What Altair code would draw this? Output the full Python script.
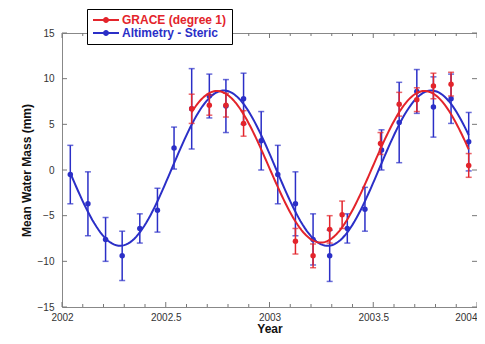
import altair as alt
import pandas as pd
import numpy as np

RED = "#e3242b"
BLUE = "#2b2fc7"
S_RED = "GRACE (degree 1)"
S_BLUE = "Altimetry - Steric"

# Altimetry - Steric (monthly)
blue_t = [2002.04, 2002.125, 2002.21, 2002.29, 2002.375, 2002.46, 2002.54, 2002.625,
          2002.71, 2002.79, 2002.875, 2002.96, 2003.04, 2003.125, 2003.21, 2003.29,
          2003.375, 2003.46, 2003.54, 2003.625, 2003.71, 2003.79, 2003.875, 2003.96]
blue_y = [-0.5, -3.7, -7.6, -9.4, -6.4, -4.4, 2.4, 6.7, 8.1, 7.0, 7.8, 3.2,
          -0.5, -3.7, -7.6, -9.4, -6.4, -4.3, 2.2, 5.2, 8.6, 6.9, 7.8, 3.1]
blue_e = [3.2, 3.5, 2.4, 2.7, 1.6, 2.4, 2.3, 4.4, 2.4, 2.9, 2.8, 3.2,
          3.2, 3.5, 2.8, 2.8, 1.6, 2.4, 2.2, 4.4, 2.4, 3.3, 2.7, 3.2]

# GRACE (degree 1)
red_t = [2002.625, 2002.71, 2002.79, 2002.875, 2003.125, 2003.21, 2003.29, 2003.35,
         2003.535, 2003.625, 2003.71, 2003.79, 2003.875, 2003.96]
red_y = [6.7, 7.1, 7.1, 5.1, -7.8, -9.4, -6.5, -4.9, 2.9, 7.2, 7.7, 9.2, 9.4, 0.5]
red_e = [1.6, 1.1, 1.3, 1.4, 1.4, 1.3, 1.5, 1.5, 1.2, 1.3, 1.3, 1.4, 1.3, 1.3]

# annual sinusoid fits: offset, amplitude, time of maximum
blue_fit = (0.2, 8.5, 2002.78)
red_fit = (0.35, 8.3, 2002.747)

x_labels = [2002, 2002.5, 2003, 2003.5, 2004]
x_minor = [2002.1, 2002.2, 2002.3, 2002.4, 2002.6, 2002.7, 2002.8, 2002.9,
           2003.1, 2003.2, 2003.3, 2003.4, 2003.6, 2003.7, 2003.8, 2003.9]
y_labels = [-15, -10, -5, 0, 5, 10, 15]

W, H = 415, 274


def points_df(t, y, e, name):
    return pd.DataFrame({
        "t": t, "y": y,
        "lo": [a - b for a, b in zip(y, e)],
        "hi": [a + b for a, b in zip(y, e)],
        "series": name,
    })


def curve_df(t0, t1, fit):
    off, amp, tmax = fit
    tt = np.linspace(t0, t1, 200)
    return pd.DataFrame({"t": tt, "y": off + amp * np.cos(2 * np.pi * (tt - tmax))})


bdf = points_df(blue_t, blue_y, blue_e, S_BLUE)
rdf = points_df(red_t, red_y, red_e, S_RED)
bcurve = curve_df(blue_t[0], blue_t[-1], blue_fit)
rcurve = curve_df(red_t[0], red_t[-1], red_fit)

xs = alt.Scale(domain=[2002, 2004], nice=False, zero=False)
ys = alt.Scale(domain=[-15, 15], nice=False, zero=False)

X = alt.X("t:Q", scale=xs, axis=alt.Axis(
    values=x_labels, format="~g", title="Year", labelFlush=False,
    labelAlign={"condition": {"test": "datum.value >= 2004", "value": "right"}, "value": "center"},
    labelPadding=5, titlePadding=1))
Y = alt.Y("y:Q", scale=ys, axis=alt.Axis(values=y_labels, format="d",
                                          title="Mean Water Mass (mm)", labelFlush=False,
                                          labelPadding=8, titlePadding=4))

# legend symbol: line with a dot, 10px unit -> drawn 26px wide from the symbol's left edge
SYM = ("M-1,-0.2L4.2,-0.2L4.2,0.2L-1,0.2Z "
       "M2.2,0A0.6,0.6,0,1,1,1.0,0A0.6,0.6,0,1,1,2.2,0Z")

color = alt.Color(
    "series:N",
    scale=alt.Scale(domain=[S_RED, S_BLUE], range=[RED, BLUE]),
    legend=alt.Legend(
        orient="none", legendX=25, legendY=-24, title=None,
        fillColor="white", strokeColor="black", padding=5,
        symbolType=SYM, symbolSize=100, symbolStrokeWidth=0,
        labelFont="Liberation Sans", labelFontSize=12, labelFontWeight="bold",
        labelColor={"expr": f"datum.label == '{S_RED}' ? '{RED}' : '{BLUE}'"},
        labelOffset=18, rowPadding=1,
    ),
)


def series_layers(df, cdf, col):
    base = alt.Chart(df)
    bars = base.mark_rule(color=col, strokeWidth=1.5).encode(
        x=X, y=alt.Y("lo:Q", scale=ys), y2="hi:Q")
    cap_lo = base.mark_tick(color=col, size=6, thickness=1.5, orient="horizontal").encode(
        x=X, y=alt.Y("lo:Q", scale=ys))
    cap_hi = base.mark_tick(color=col, size=6, thickness=1.5, orient="horizontal").encode(
        x=X, y=alt.Y("hi:Q", scale=ys))
    line = alt.Chart(cdf).mark_line(color=col, strokeWidth=2).encode(x=X, y=Y)
    pts = base.mark_circle(size=30, opacity=1).encode(x=X, y=Y, color=color)
    return [bars, cap_lo, cap_hi, line, pts]


# inward frame ticks
xt_major = pd.DataFrame({"t": x_labels})
xt_minor = pd.DataFrame({"t": x_minor})
yt = pd.DataFrame({"y": y_labels})
TC = "#777777"
ticks = [
    alt.Chart(xt_major).mark_rule(color=TC).encode(x=X, y=alt.value(H), y2=alt.value(H - 5)),
    alt.Chart(xt_major).mark_rule(color=TC).encode(x=X, y=alt.value(0), y2=alt.value(5)),
    alt.Chart(xt_minor).mark_rule(color=TC).encode(x=X, y=alt.value(H), y2=alt.value(H - 3)),
    alt.Chart(xt_minor).mark_rule(color=TC).encode(x=X, y=alt.value(0), y2=alt.value(3)),
    alt.Chart(yt).mark_rule(color=TC).encode(y=Y, x=alt.value(0), x2=alt.value(5)),
    alt.Chart(yt).mark_rule(color=TC).encode(y=Y, x=alt.value(W), x2=alt.value(W - 5)),
]

layers = ticks + series_layers(bdf, bcurve, BLUE) + series_layers(rdf, rcurve, RED)

chart = alt.layer(*layers).properties(
    width=W, height=H,
    autosize=alt.AutoSizeParams(type="none"),
    padding={"left": 54, "top": 25, "right": 0, "bottom": 29},
    background="white",
).configure_view(
    stroke="#888888", strokeWidth=1,
).configure_axis(
    domain=False, ticks=False, grid=False,
    labelFont="Liberation Sans", labelFontSize=10, labelColor="#333333",
    titleFont="Liberation Sans", titleFontSize=12, titleFontWeight="bold", titleColor="#111111",
)

chart.save("out.html", embed_options={"renderer": "svg", "actions": False})
